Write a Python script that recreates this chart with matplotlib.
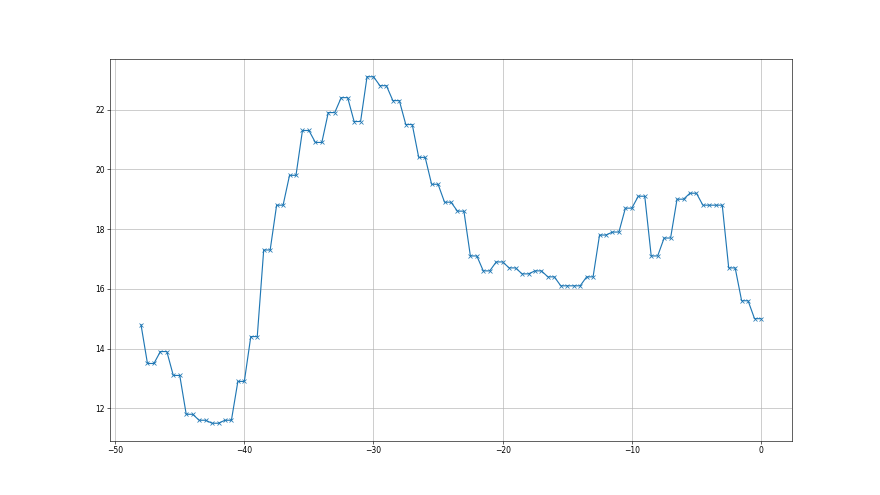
import numpy as np
import matplotlib
matplotlib.use("Agg")
import matplotlib.pyplot as plt

first_x = -48.0
first_y = 14.8
pair_values = [13.5, 13.9, 13.1, 11.8, 11.6, 11.5, 11.6, 12.9, 14.4, 17.3,
               18.8, 19.8, 21.3, 20.9, 21.9, 22.4, 21.6, 23.1, 22.8, 22.3,
               21.5, 20.4, 19.5, 18.9, 18.6, 17.1, 16.6, 16.9, 16.7, 16.5,
               16.6, 16.4, 16.1, 16.1, 16.4, 17.8, 17.9, 18.7, 19.1, 17.1,
               17.7, 19.0, 19.2, 18.8, 18.8, 16.7, 15.6, 15.0]

x = [first_x]
y = [first_y]
for i, v in enumerate(pair_values):
    x.append(-47.5 + i * 1.0)
    x.append(-47.0 + i * 1.0)
    y.extend([v, v])

fig, ax = plt.subplots(figsize=(16, 9), dpi=55)
ax.plot(x, y, marker='x', color='#1f77b4')
ax.grid(True)
fig.savefig("out.png", dpi=55)
